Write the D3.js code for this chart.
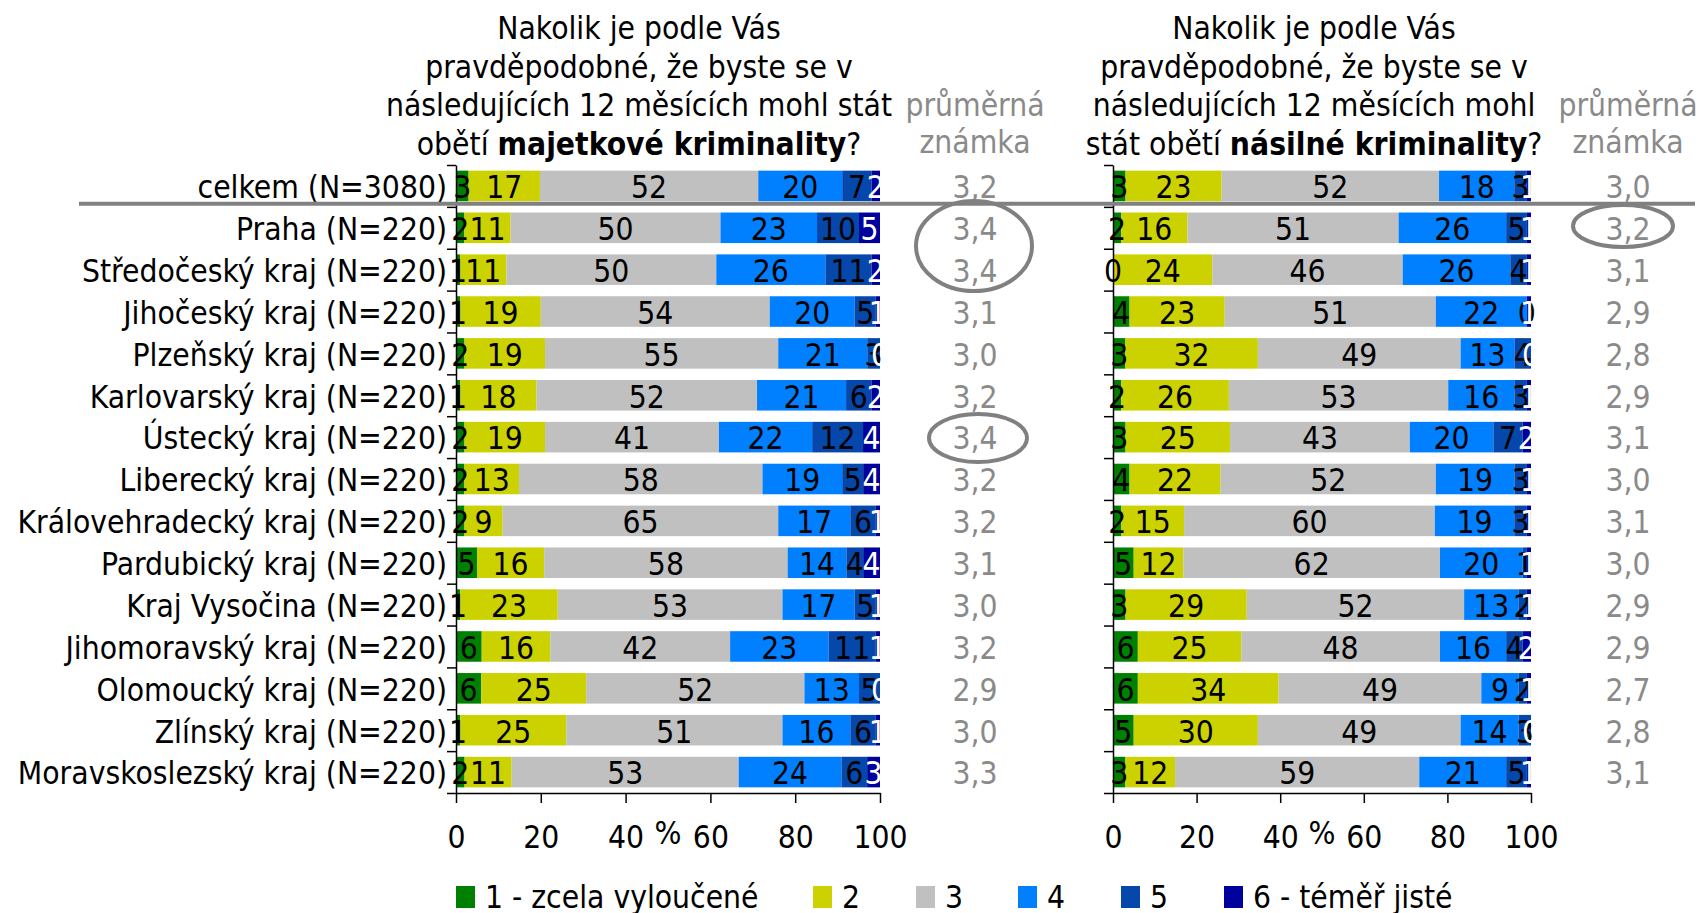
<!DOCTYPE html>
<html lang="cs">
<head>
<meta charset="utf-8">
<script src="https://cdn.jsdelivr.net/npm/d3@7"></script>
<style>
  html, body { margin: 0; padding: 0; background: #fff; }
  svg { display: block; }
  text { font-family: 'DejaVu Sans Condensed', 'DejaVu Sans', sans-serif; font-stretch: condensed; }
</style>
</head>
<body>
<svg id="chart" width="1704" height="913"></svg>
<script>
// Kraje a celek
const categories = [
  "celkem (N=3080)",
  "Praha (N=220)",
  "Středočeský kraj (N=220)",
  "Jihočeský kraj (N=220)",
  "Plzeňský kraj (N=220)",
  "Karlovarský kraj (N=220)",
  "Ústecký kraj (N=220)",
  "Liberecký kraj (N=220)",
  "Královehradecký kraj (N=220)",
  "Pardubický kraj (N=220)",
  "Kraj Vysočina (N=220)",
  "Jihomoravský kraj (N=220)",
  "Olomoucký kraj (N=220)",
  "Zlínský kraj (N=220)",
  "Moravskoslezský kraj (N=220)"
];

const seriesNames = ["1 - zcela vyloučené", "2", "3", "4", "5", "6 - téměř jisté"];

// Majetková kriminalita, % odpovědí 1..6
const propertyValues = [
  [3, 17, 52, 20, 7, 2],
  [2, 11, 50, 23, 10, 5],
  [1, 11, 50, 26, 11, 2],
  [1, 19, 54, 20, 5, 1],
  [2, 19, 55, 21, 3, 0],
  [1, 18, 52, 21, 6, 2],
  [2, 19, 41, 22, 12, 4],
  [2, 13, 58, 19, 5, 4],
  [2, 9, 65, 17, 6, 1],
  [5, 16, 58, 14, 4, 4],
  [1, 23, 53, 17, 5, 1],
  [6, 16, 42, 23, 11, 1],
  [6, 25, 52, 13, 5, 0],
  [1, 25, 51, 16, 6, 1],
  [2, 11, 53, 24, 6, 3]
];
const propertyMeans = ["3,2", "3,4", "3,4", "3,1", "3,0", "3,2", "3,4", "3,2", "3,2", "3,1", "3,0", "3,2", "2,9", "3,0", "3,3"];

// Násilná kriminalita, % odpovědí 1..6
const violentValues = [
  [3, 23, 52, 18, 3, 1],
  [2, 16, 51, 26, 5, 1],
  [0, 24, 46, 26, 4, 1],
  [4, 23, 51, 22, 0, 1],
  [3, 32, 49, 13, 4, 0],
  [2, 26, 53, 16, 3, 1],
  [3, 25, 43, 20, 7, 2],
  [4, 22, 52, 19, 3, 1],
  [2, 15, 60, 19, 3, 1],
  [5, 12, 62, 20, 1, 1],
  [3, 29, 52, 13, 2, 1],
  [6, 25, 48, 16, 4, 2],
  [6, 34, 49, 9, 2, 1],
  [5, 30, 49, 14, 3, 0],
  [3, 12, 59, 21, 5, 1]
];
const violentMeans = ["3,0", "3,2", "3,1", "2,9", "2,8", "2,9", "3,1", "3,0", "3,1", "3,0", "2,9", "2,9", "2,7", "2,8", "3,1"];

const xTicks = [0, 20, 40, 60, 80, 100];

const colors = ["#008000", "#ccd200", "#c0c0c0", "#0080ff", "#0547aa", "#00009c"];
const labelColors = ["#000", "#000", "#000", "#000", "#000", "#fff"];
const meanColor = "#8a8a8a";
const FS = 31.5;

const svg = d3.select("#chart");

const yTop = 165, yBottom = 793;
const yIdx = d3.scaleLinear().domain([0, categories.length]).range([yTop, yBottom]);
const band = d3.scaleBand().domain(d3.range(categories.length)).range([yTop, yBottom]).paddingInner(0.27).paddingOuter(0.135);

const stack = d3.stack().keys(d3.range(6)).offset(d3.stackOffsetExpand);

function panel(values, means, x0, x1, meanX, titleX, titleLines) {
  const x = d3.scaleLinear().domain([0, 1]).range([x0, x1]);
  const rows = values.map(v => Object.assign({}, v));
  const stacked = stack(rows);
  const g = svg.append("g");

  // segments
  stacked.forEach((layer, k) => {
    g.append("g").selectAll("rect")
      .data(layer)
      .join("rect")
      .attr("x", d => x(d[0]))
      .attr("width", d => x(d[1]) - x(d[0]))
      .attr("y", (d, i) => band(i))
      .attr("height", band.bandwidth())
      .attr("fill", colors[k]);
  });

  // value labels
  stacked.forEach((layer, k) => {
    g.append("g").selectAll("text")
      .data(layer)
      .join("text")
      .attr("x", d => (x(d[0]) + x(d[1])) / 2)
      .attr("y", (d, i) => band(i) + band.bandwidth() / 2 + 1)
      .attr("dy", "0.36em")
      .attr("text-anchor", "middle")
      .attr("font-size", FS)
      .attr("fill", labelColors[k])
      .text((d, i) => values[i][k]);
  });

  // category axis (ticks at band boundaries)
  const ya = g.append("g")
    .attr("transform", `translate(${x0},0)`)
    .call(d3.axisLeft(yIdx).tickValues(d3.range(categories.length + 1)).tickFormat("").tickSize(9).tickSizeOuter(0));
  ya.selectAll("path, line").attr("stroke", "#000").attr("stroke-width", 1.5);

  // value axis
  const xa = g.append("g")
    .attr("transform", `translate(0,${yBottom})`)
    .call(d3.axisBottom(x).tickValues(xTicks.map(t => t / 100)).tickFormat(d => Math.round(d * 100)).tickSize(10).tickSizeOuter(0).tickPadding(23));
  xa.selectAll("path, line").attr("stroke", "#000").attr("stroke-width", 1.5);
  xa.selectAll("text").attr("font-size", FS).attr("fill", "#000");

  // % unit
  g.append("text")
    .attr("x", x(0.5)).attr("y", 833).attr("dy", "0.36em")
    .attr("text-anchor", "middle").attr("font-size", FS)
    .text("%");

  // means
  g.append("g").selectAll("text")
    .data(means)
    .join("text")
    .attr("x", meanX)
    .attr("y", (d, i) => band(i) + band.bandwidth() / 2 + 1)
    .attr("dy", "0.36em")
    .attr("text-anchor", "middle")
    .attr("font-size", FS)
    .attr("fill", meanColor)
    .text(d => d);

  g.append("text").attr("x", meanX).attr("y", 105).attr("dy", "0.36em")
    .attr("text-anchor", "middle").attr("font-size", FS).attr("fill", meanColor).text("průměrná");
  g.append("text").attr("x", meanX).attr("y", 142).attr("dy", "0.36em")
    .attr("text-anchor", "middle").attr("font-size", FS).attr("fill", meanColor).text("známka");

  // question title
  titleLines.forEach((parts, i) => {
    const t = g.append("text").attr("x", titleX).attr("y", 28 + i * 38.5).attr("dy", "0.36em")
      .attr("text-anchor", "middle").attr("font-size", FS).attr("fill", "#000");
    parts.forEach(p => t.append("tspan").attr("font-weight", p.b ? "bold" : "normal").text(p.t));
  });
  return x;
}

panel(propertyValues, propertyMeans, 456, 880, 975, 639, [
  [{t: "Nakolik je podle Vás"}],
  [{t: "pravděpodobné, že byste se v"}],
  [{t: "následujících 12 měsících mohl stát"}],
  [{t: "obětí "}, {t: "majetkové kriminality", b: true}, {t: "?"}]
]);

panel(violentValues, violentMeans, 1113, 1531, 1628, 1314, [
  [{t: "Nakolik je podle Vás"}],
  [{t: "pravděpodobné, že byste se v"}],
  [{t: "následujících 12 měsících mohl"}],
  [{t: "stát obětí "}, {t: "násilné kriminality", b: true}, {t: "?"}]
]);

// category labels
svg.append("g").selectAll("text")
  .data(categories)
  .join("text")
  .attr("x", 447)
  .attr("y", (d, i) => band(i) + band.bandwidth() / 2 + 1)
  .attr("dy", "0.36em")
  .attr("text-anchor", "end")
  .attr("font-size", FS)
  .attr("fill", "#000")
  .text(d => d);

// separator below the total row
svg.append("line")
  .attr("x1", 79).attr("x2", 1695)
  .attr("y1", yIdx(1) - 3).attr("y2", yIdx(1) - 3)
  .attr("stroke", "#808080").attr("stroke-width", 4);

// highlight rings around notable means
const rings = [
  {cx: 974, cy: 246, rx: 58, ry: 45},
  {cx: 978, cy: 438, rx: 49, ry: 24},
  {cx: 1623, cy: 226, rx: 50, ry: 21}
];
svg.append("g").selectAll("ellipse")
  .data(rings)
  .join("ellipse")
  .attr("cx", d => d.cx).attr("cy", d => d.cy)
  .attr("rx", d => d.rx).attr("ry", d => d.ry)
  .attr("fill", "none").attr("stroke", "#808080").attr("stroke-width", 4);

// legend
const legendX = [456, 813, 916, 1018, 1121, 1224];
const lg = svg.append("g").selectAll("g")
  .data(seriesNames)
  .join("g")
  .attr("transform", (d, i) => `translate(${legendX[i]},897)`);
lg.append("rect").attr("x", 0).attr("y", -11).attr("width", 19).attr("height", 22)
  .attr("fill", (d, i) => colors[i]);
lg.append("text").attr("x", 29).attr("y", 0).attr("dy", "0.36em")
  .attr("font-size", FS).attr("fill", "#000").text(d => d);
</script>
</body>
</html>
